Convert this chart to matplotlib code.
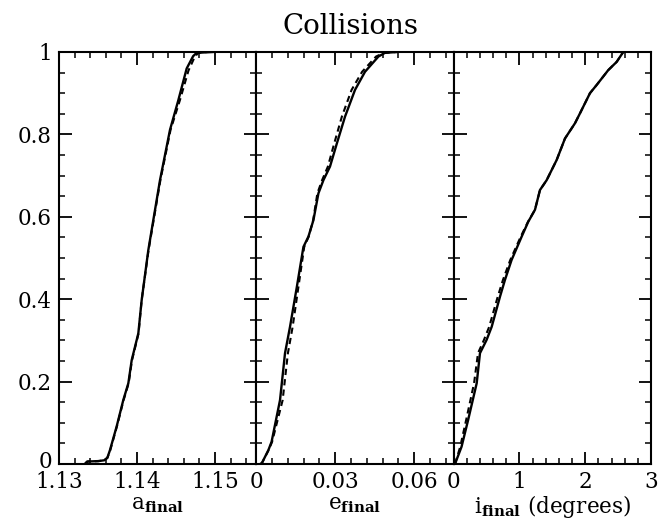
import numpy as np
import matplotlib
matplotlib.use("Agg")
import matplotlib.pyplot as plt
import matplotlib.transforms as mtransforms
from matplotlib.ticker import MultipleLocator, FixedLocator, FixedFormatter

plt.rcParams['font.family'] = 'DejaVu Serif'
plt.rcParams['mathtext.fontset'] = 'dejavuserif'

# --------------------------------------------------
# Cumulative distributions (solid = run 1, dashed = run 2)
# --------------------------------------------------
a_solid_x = [1.1333, 1.1336, 1.1350, 1.1358, 1.1362, 1.13654, 1.13739, 1.13824, 1.13889,
             1.13932, 1.14017, 1.1406, 1.14145, 1.14188, 1.14295, 1.14423, 1.1453,
             1.14637, 1.1472, 1.14765, 1.1497]
a_solid_y = [0.0, 0.006, 0.007, 0.009, 0.015, 0.034, 0.091, 0.155, 0.196,
             0.252, 0.317, 0.398, 0.519, 0.568, 0.689, 0.811, 0.883,
             0.960, 0.990, 0.998, 1.0]
a_dash_x = [1.1334, 1.1337, 1.1351, 1.1358, 1.1362, 1.13658, 1.13742, 1.13828, 1.13893,
            1.13936, 1.14020, 1.1406, 1.14148, 1.14192, 1.14300, 1.14430, 1.1455,
            1.14660, 1.1474, 1.14785, 1.1490]
a_dash_y = [0.0, 0.006, 0.007, 0.009, 0.015, 0.034, 0.091, 0.155, 0.196,
            0.252, 0.317, 0.398, 0.519, 0.568, 0.689, 0.811, 0.883,
            0.955, 0.988, 0.998, 1.0]

e_solid_x = [0.0015, 0.0021, 0.0046, 0.0058, 0.0090, 0.0109, 0.0128, 0.0154, 0.0179,
             0.0198, 0.0217, 0.0236, 0.0255, 0.0280, 0.0306, 0.0337, 0.0375,
             0.0413, 0.0464, 0.0489, 0.0534]
e_solid_y = [0.0, 0.002, 0.034, 0.054, 0.155, 0.269, 0.333, 0.430, 0.527,
             0.552, 0.592, 0.657, 0.689, 0.722, 0.778, 0.843, 0.908,
             0.952, 0.989, 0.998, 1.0]
e_dash_x = [0.0015, 0.0021, 0.0047, 0.0060, 0.0100, 0.0120, 0.0138, 0.0160, 0.0182,
            0.0199, 0.0216, 0.0232, 0.0250, 0.0272, 0.0296, 0.0325, 0.0362,
            0.0402, 0.0455, 0.0485, 0.0534]
e_dash_y = [0.0, 0.002, 0.034, 0.054, 0.155, 0.269, 0.333, 0.430, 0.527,
            0.552, 0.592, 0.657, 0.689, 0.722, 0.778, 0.843, 0.908,
            0.952, 0.989, 0.998, 1.0]

i_solid_x = [0.02, 0.12, 0.22, 0.35, 0.40, 0.50, 0.578, 0.704, 0.78, 0.88, 1.034,
             1.134, 1.236, 1.312, 1.414, 1.566, 1.692, 1.844, 1.92, 2.072, 2.174,
             2.35, 2.478, 2.578]
i_solid_y = [0.0, 0.042, 0.107, 0.196, 0.269, 0.301, 0.333, 0.406, 0.447, 0.495, 0.552,
             0.588, 0.617, 0.665, 0.689, 0.738, 0.790, 0.827, 0.851, 0.900, 0.920,
             0.956, 0.976, 1.0]
i_dash_x = [0.02, 0.10, 0.19, 0.31, 0.37, 0.46, 0.54, 0.67, 0.75, 0.86, 1.02,
            1.130, 1.236, 1.312, 1.414, 1.566, 1.692, 1.844, 1.92, 2.072, 2.174,
            2.35, 2.478, 2.578]
i_dash_y = i_solid_y

panels = [
    dict(xs=a_solid_x, ys=a_solid_y, xd=a_dash_x, yd=a_dash_y,
         xlim=(1.13, 1.1553), major=[1.13, 1.14, 1.15], labels=['1.13', '1.14', '1.15'],
         minor=0.002, xlabel=r'a$_{\mathbf{final}}$'),
    dict(xs=e_solid_x, ys=e_solid_y, xd=e_dash_x, yd=e_dash_y,
         xlim=(0, 0.075), major=[0, 0.03, 0.06], labels=['0', '0.03', '0.06'],
         minor=0.006, xlabel=r'e$_{\mathbf{final}}$'),
    dict(xs=i_solid_x, ys=i_solid_y, xd=i_dash_x, yd=i_dash_y,
         xlim=(0, 3), major=[0, 1, 2, 3], labels=['0', '1', '2', '3'],
         minor=0.2, xlabel=r'i$_{\mathbf{final}}$ (degrees)'),
]

yticks = [0, 0.2, 0.4, 0.6, 0.8, 1.0]
ytick_labels = ['0', '0.2', '0.4', '0.6', '0.8', '1']

W, H = 669, 519
fig = plt.figure(figsize=(W / 100, H / 100), dpi=100)

left_px, right_px, top_px, bottom_px = 59, 651, 52, 464
pw = (right_px - left_px) / 3.0

for k, p in enumerate(panels):
    ax = fig.add_axes([(left_px + k * pw) / W, 1 - bottom_px / H,
                       pw / W, (bottom_px - top_px) / H])
    ax.plot(p['xs'], p['ys'], color='black', lw=1.7, solid_joinstyle='round')
    ax.plot(p['xd'], p['yd'], color='black', lw=1.5, ls=(0, (3, 2)))
    ax.set_xlim(*p['xlim'])
    ax.set_ylim(0, 1)
    ax.xaxis.set_major_locator(FixedLocator(p['major']))
    ax.xaxis.set_major_formatter(FixedFormatter(p['labels']))
    ax.xaxis.set_minor_locator(MultipleLocator(p['minor']))
    ax.yaxis.set_major_locator(FixedLocator(yticks))
    ax.yaxis.set_minor_locator(MultipleLocator(0.05))
    ax.tick_params(which='both', direction='in', top=True, right=True,
                   labelsize=15.5, width=1.3)
    ax.tick_params(axis='x', pad=5)
    ax.tick_params(axis='y', pad=5)
    ax.tick_params(which='major', length=9)
    ax.tick_params(which='minor', length=4.5, width=1.1)
    if k == 0:
        ax.yaxis.set_major_formatter(FixedFormatter(ytick_labels))
        # lift the bottom "0" a little so it clears the x tick label below it
        fig.canvas.draw()
        lab0 = ax.yaxis.get_majorticklabels()[0]
        lab0.set_transform(lab0.get_transform() +
                           mtransforms.ScaledTranslation(0, 5 / 100, fig.dpi_scale_trans))
    else:
        ax.tick_params(labelleft=False)
    for s in ax.spines.values():
        s.set_linewidth(1.5)
    ax.set_xlabel(p['xlabel'], fontsize=15.5, labelpad=0)

fig.text(350 / W, 1 - 26 / H, 'Collisions', ha='center', va='center', fontsize=20)

fig.savefig('out.png', dpi=100)
